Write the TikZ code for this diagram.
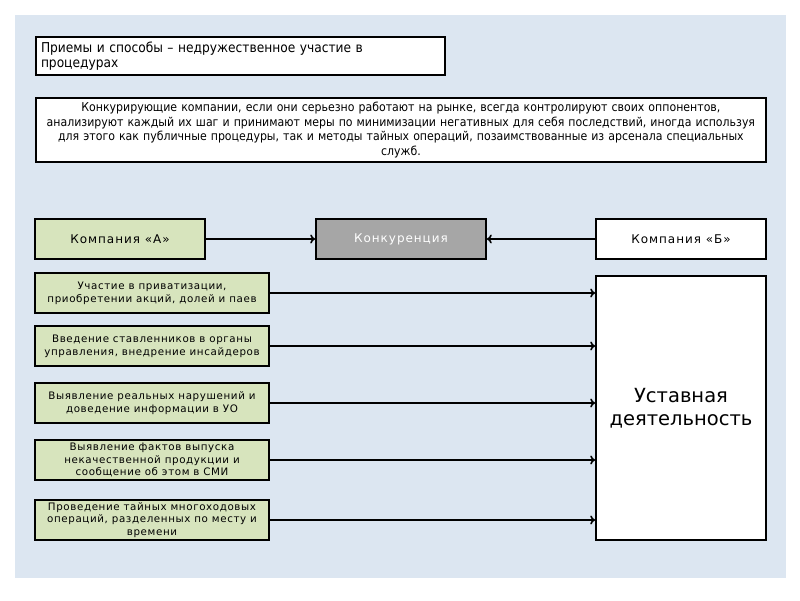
\documentclass[tikz,border=0pt]{standalone}
\usepackage{fontspec}
\setmainfont{DejaVu Sans}
\newfontfamily\condfont{DejaVu Sans Condensed}
\newfontfamily\widefont[LetterSpace=6]{DejaVu Sans}
\newfontfamily\headfont[LetterSpace=8]{DejaVu Sans}
\usepackage{xcolor}
\definecolor{panelBlue}{HTML}{DCE6F1}
\definecolor{boxGreen}{HTML}{D7E4BD}
\definecolor{boxGray}{HTML}{A6A6A6}
\usetikzlibrary{arrows.meta}

\begin{document}
\begin{tikzpicture}[x=1pt, y=-1pt,
        box/.style={draw, line width=1.6, inner sep=0, minimum height=40, align=center},
        greenbox/.style={box, fill=boxGreen, minimum width=234, font=\widefont\fontsize{10.3}{12.8}\selectfont},
        headbox/.style={box, minimum width=170, font=\headfont\fontsize{12}{14}\selectfont},
        conn/.style={line width=1.6, -{To[length=5pt, width=9pt]}}]
                \fill[white] (0,0) rectangle (800,600);
                \fill[panelBlue] (15,15) rectangle (786,578);

                \node[box, fill=white, minimum width=409, minimum height=38, text width=399, align=left, font=\condfont\fontsize{13.6}{14.5}\selectfont] (title) at (240.5,56) {Приемы и способы – недружественное участие в\\процедурах};
                \node[box, fill=white, minimum width=730, minimum height=64, text width=726, font=\condfont\fontsize{12.2}{14.5}\selectfont] (desc) at (401,130) {Конкурирующие компании, если они серьезно работают на рынке, всегда контролируют своих оппонентов,\\анализируют каждый их шаг и принимают меры по минимизации негативных для себя последствий, иногда используя\\для этого как публичные процедуры, так и методы тайных операций, позаимствованные из арсенала специальных\\служб.};

                \node[headbox, fill=boxGreen] (compA) at (120,239) {Компания «А»};
                \node[headbox, fill=boxGray, text=white] (konk) at (401,239) {Конкуренция};
                \node[headbox, fill=white] (compB) at (681,239) {Компания «Б»};

                \node[greenbox] (g1) at (152,293) {Участие в приватизации,\\приобретении акций, долей и паев};
                \node[greenbox] (g2) at (152,346) {Введение ставленников в органы\\управления, внедрение инсайдеров};
                \node[greenbox] (g3) at (152,403) {Выявление реальных нарушений и\\доведение информации в УО};
                \node[greenbox] (g4) at (152,460) {Выявление фактов выпуска\\некачественной продукции и\\сообщение об этом в СМИ};
                \node[greenbox] (g5) at (152,520) {Проведение тайных многоходовых\\операций, разделенных по месту и\\времени};

                \node[box, fill=white, minimum width=170, minimum height=264, font=\fontsize{19.5}{23}\selectfont] (ustav) at (681,408) {Уставная\\деятельность};

                \path[conn]
                    (compA) edge (konk)
                    (compB) edge (konk)
                    (g1.east) edge (g1.east -| ustav.west)
                    (g2.east) edge (g2.east -| ustav.west)
                    (g3.east) edge (g3.east -| ustav.west)
                    (g4.east) edge (g4.east -| ustav.west)
                    (g5.east) edge (g5.east -| ustav.west)
                ;
            \end{tikzpicture}
\end{document}
